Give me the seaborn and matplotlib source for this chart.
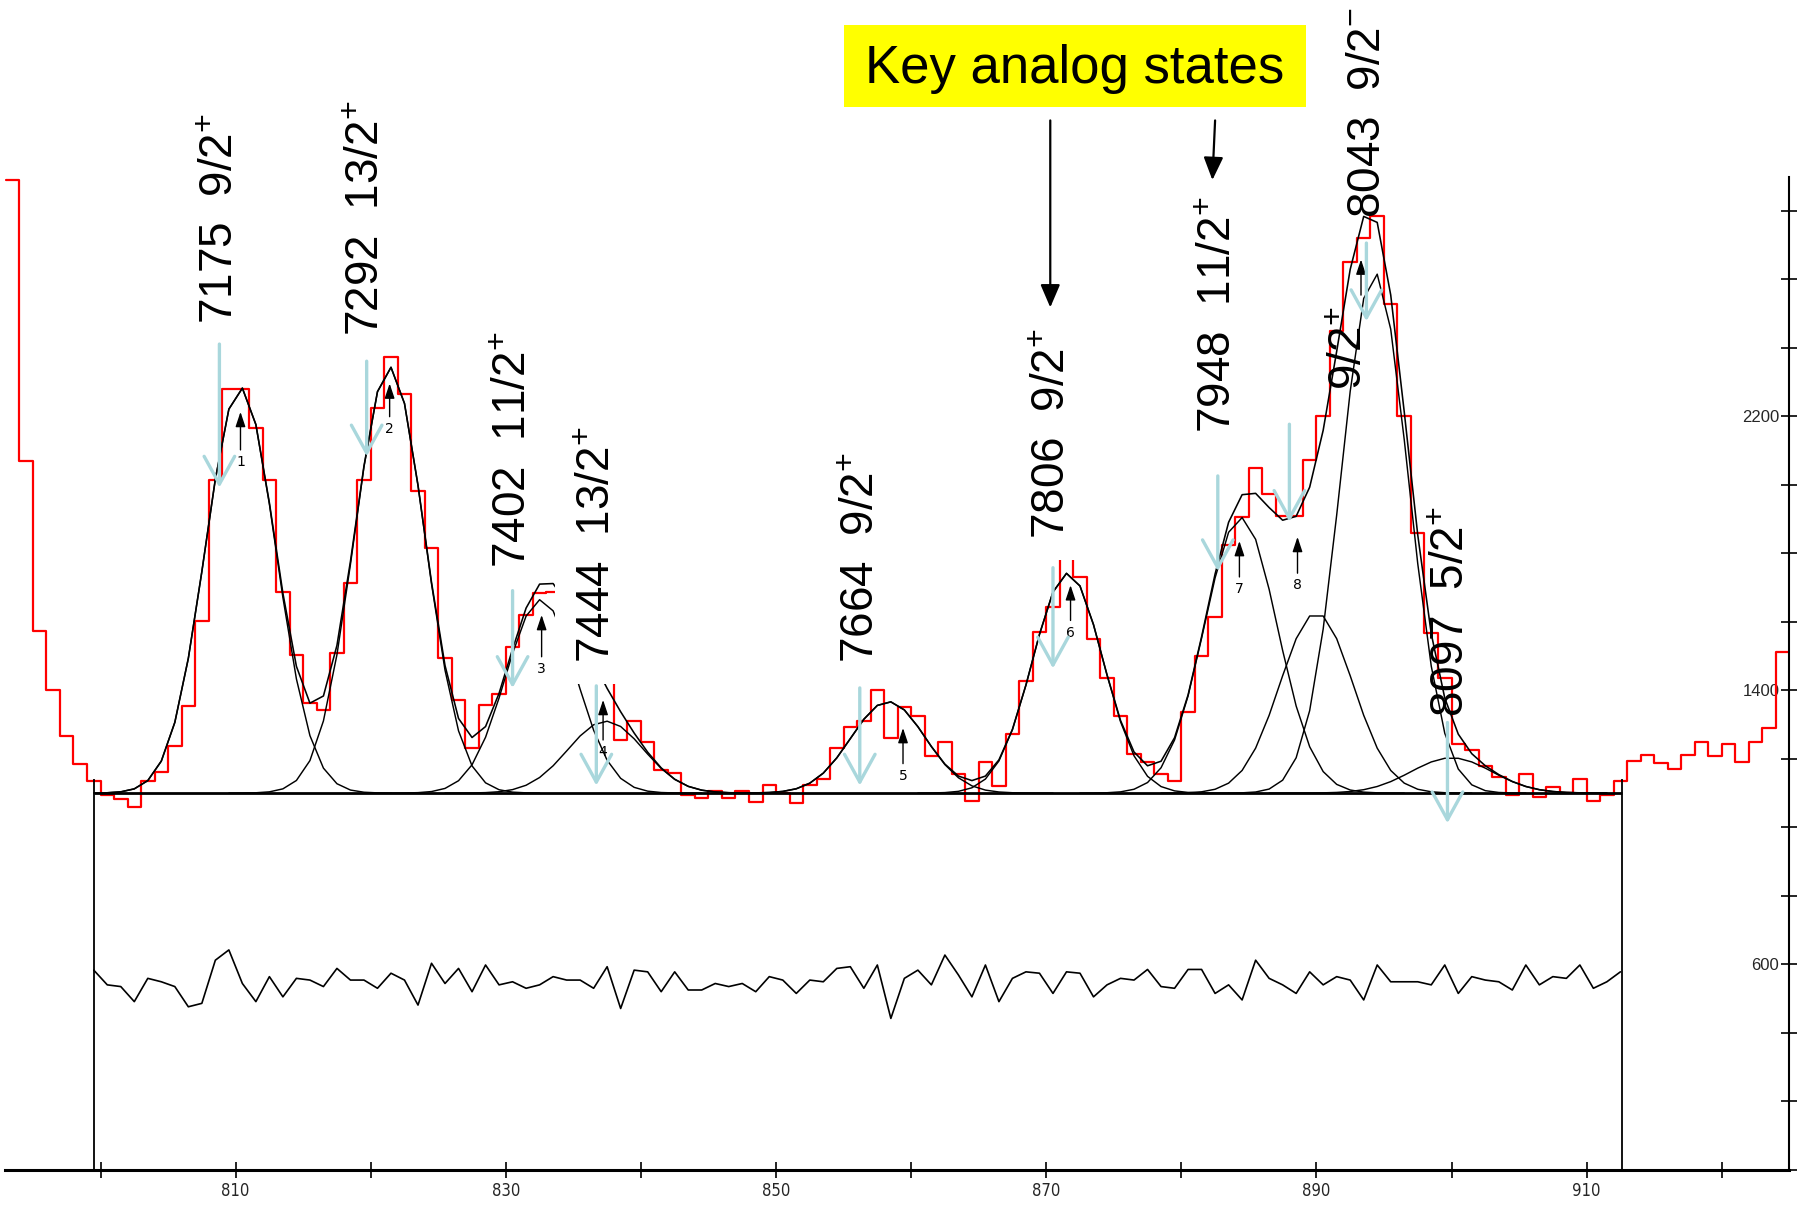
import numpy as np
import matplotlib
matplotlib.use("Agg")
import matplotlib.pyplot as plt
import seaborn as sns
from matplotlib.patches import Rectangle
from matplotlib.ticker import FixedLocator, MultipleLocator

sns.set_theme(style="white")
plt.rcParams["font.family"] = ["Liberation Sans", "DejaVu Sans"]
plt.rcParams["mathtext.fontset"] = "custom"
plt.rcParams["mathtext.rm"] = "Liberation Sans"
plt.rcParams["mathtext.it"] = "Liberation Sans:italic"
plt.rcParams["mathtext.bf"] = "Liberation Sans:bold"

# ---- measured spectrum: counts per channel, first bin starts at channel 793
first_channel = 793
counts = [
    2890, 2070, 1573, 1401, 1268, 1184, 1136, 1094, 1082, 1058,   # 793-802
    1136, 1162, 1238, 1355, 1602, 2014, 2279, 2279, 2165, 2014,   # 803-812
    1688, 1503, 1362, 1343, 1508, 1712, 2014, 2223, 2372, 2264,   # 813-822
    1983, 1815, 1495, 1372, 1231, 1357, 1389, 1526, 1620, 1685,   # 823-832
    1688, 1640, 1560, 1480, 1430, 1255, 1309, 1250, 1167, 1158,   # 833-842
    1094, 1085, 1107, 1085, 1107, 1075, 1124, 1099, 1070, 1124,   # 843-852
    1140, 1231, 1294, 1310, 1401, 1261, 1351, 1325, 1209, 1250,   # 853-862
    1157, 1076, 1192, 1122, 1273, 1427, 1569, 1644, 1800, 1731,   # 863-872
    1551, 1435, 1325, 1215, 1192, 1157, 1134, 1337, 1499, 1615,   # 873-882
    1823, 1905, 2049, 1974, 1910, 1910, 2073, 2200, 2449, 2652,   # 883-892
    2721, 2785, 2528, 2200, 1858, 1568, 1435, 1244, 1227, 1180,   # 893-902
    1146, 1093, 1157, 1088, 1117, 1099, 1140, 1076, 1093, 1134,   # 903-912
    1195, 1212, 1188, 1169, 1212, 1250, 1209, 1242, 1192, 1250,   # 913-922
    1290, 1513,                                                   # 923-924
]

# ---- fit: flat background plus gaussian components
fit_low, fit_high = 799.55, 912.6
baseline = 1100
peak_centroid = [810.36, 821.4, 832.6, 837.4, 858.3, 871.6, 884.4, 890.0, 894.3, 900.0]
peak_height = [1184, 1244, 565, 210, 267, 642, 805, 526, 1520, 103]
peak_sigma = [2.6, 2.6, 2.6, 2.8, 2.75, 2.6, 2.7, 2.7, 2.5, 3.0]

# ---- fit residuals, one value per channel centre from 799.5
residual_start = 799.5
residual_offset = 550
residuals = [
    33, -10, -15, -59, 9, -1, -15, -74, -64, 62,
    92, -6, -59, 14, -45, 9, 4, -15, 38, 4,
    4, -20, 24, 4, -69, 53, -6, 38, -30, 48,
    -10, -1, -20, -10, 14, 4, 4, -20, 43, -79,
    33, 28, -30, 28, -25, -25, -6, -15, -6, -30,
    14, 4, -35, 4, -1, 38, 43, -20, 48, -108,
    9, 33, -10, 77, 19, -45, 48, -59, 9, 28,
    24, -35, 28, 24, -45, -10, 9, 4, 35, -15,
    -20, 35, 35, -35, -10, -54, 62, 9, -10, -35,
    28, -10, 14, 4, -54, 48, -1, -1, -1, -10,
    48, -35, 14, 4, -1, -25, 48, -10, 14, 9,
    48, -20, -1, 28,
]

# ---- state labels (excitation energy in keV and spin-parity)
state_labels = [
    "7175  9/2$^{+}$", "7292  13/2$^{+}$", "7402  11/2$^{+}$", "7444  13/2$^{+}$",
    "7664  9/2$^{+}$", "7806  9/2$^{+}$", "7948  11/2$^{+}$", "8043  9/2$^{-}$",
    "9/2$^{+}$", "8097  5/2$^{+}$",
]
label_x = [808.9, 819.7, 830.6, 836.8, 856.4, 870.5, 882.8, 893.8, 892.5, 900.0]
label_y = [2471, 2434, 1758, 1480, 1480, 1842, 2150, 2779, 2277, 1323]
label_boxed = [False, False, False, True, False, True, False, False, False, False]

# state arrows (light blue), start and end heights
state_arrow_x = [808.8, 819.7, 830.5, 836.7, 856.2, 870.5, 882.7, 888.0, 893.7, 899.7]
state_arrow_top = [2411, 2361, 1691, 1413, 1407, 1758, 2026, 2177, 2706, 1306]
state_arrow_tip = [1992, 2083, 1407, 1122, 1122, 1464, 1748, 1892, 2478, 1012]

# fitted-peak markers from the fitting program
marker_x = [810.36, 821.4, 832.65, 837.2, 859.4, 871.8, 884.3, 888.6, 893.3]
marker_tail = [2102, 2199, 1498, 1255, 1186, 1604, 1731, 1742, 2554]
marker_head = [2213, 2296, 1620, 1372, 1290, 1707, 1836, 1848, 2658]
marker_text = ["1", "2", "3", "4", "5", "6", "7", "8", ""]

# ---- figure
W, H = 1798, 1208
fig = plt.figure(figsize=(W / 100, H / 100), dpi=100)
fig.patch.set_facecolor("white")
ax = fig.add_axes([5 / W, 1 - 1169.8 / H, 1784 / W, 993.2 / H])
ax.set_facecolor("white")
ax.set_xlim(792.93, 924.98)
ax.set_ylim(0, 2900)

# spectrum as a step histogram
chan = np.arange(first_channel, first_channel + len(counts))
edges = np.append(chan, chan[-1] + 1)
steps = np.append(counts, counts[-1])
sns.lineplot(x=edges, y=steps, drawstyle="steps-post", color="#ff0000",
             lw=1.6, estimator=None, ax=ax, legend=False, zorder=2)

# fit components and total, evaluated at channel centres
centres = np.arange(799, 912) + 0.5
total = np.full(centres.shape, float(baseline))
for c, a, s in zip(peak_centroid, peak_height, peak_sigma):
    g = a * np.exp(-0.5 * ((centres - c) / s) ** 2)
    total += g
    m = np.abs(centres - c) < 4.6 * s
    sns.lineplot(x=centres[m], y=baseline + g[m], color="black", lw=1.05,
                 estimator=None, ax=ax, legend=False, zorder=2.2)
keep = (centres > 800) & (centres < 912)
sns.lineplot(x=centres[keep], y=total[keep], color="black", lw=1.15,
             estimator=None, ax=ax, legend=False, zorder=2.3)

# background level and the fit window
ax.hlines(baseline, fit_low, fit_high, color="black", lw=2.0, zorder=2.4)
ax.vlines([fit_low, fit_high], 0, baseline + 40, color="black", lw=1.3, zorder=2.4)

# residuals
rx = residual_start + np.arange(len(residuals))
ry = residual_offset + np.asarray(residuals)
sns.lineplot(x=rx, y=ry, color="black", lw=1.2, estimator=None, ax=ax,
             legend=False, zorder=2.2)

# state labels
for txt, x, y, boxed in zip(state_labels, label_x, label_y, label_boxed):
    kw = {}
    if boxed:
        kw["bbox"] = dict(boxstyle="square,pad=0.45", facecolor="white",
                          edgecolor="none")
    ax.text(x, y, txt, rotation=90, ha="center", va="bottom", fontsize=33,
            color="black", zorder=5, clip_on=False, **kw)

# light-blue arrows to each state
for x, y0, y1 in zip(state_arrow_x, state_arrow_top, state_arrow_tip):
    ax.annotate("", xy=(x, y1), xytext=(x, y0),
                arrowprops=dict(arrowstyle="->,head_length=1.0,head_width=0.55",
                                color="#a9d7dc", lw=2.4, mutation_scale=20,
                                shrinkA=0, shrinkB=0),
                annotation_clip=False, zorder=6)

# small numbered peak markers
for x, y0, y1, t in zip(marker_x, marker_tail, marker_head, marker_text):
    ax.annotate("", xy=(x, y1), xytext=(x, y0),
                arrowprops=dict(arrowstyle="-|>,head_length=0.9,head_width=0.3",
                                color="black", lw=1.0, mutation_scale=10,
                                shrinkA=0, shrinkB=0), zorder=4)
    if t:
        ax.text(x, y0 - 15, t, ha="center", va="top", fontsize=10,
                family=["DejaVu Sans"], color="black", zorder=4)

# "Key analog states" call-out
fig.patches.append(Rectangle((844 / W, 1 - 107 / H), 462 / W, 82 / H,
                             transform=fig.transFigure, facecolor="#ffff00",
                             edgecolor="none", zorder=1))
fig.text(1075 / W, 1 - 69 / H, "Key analog states", ha="center", va="center",
         fontsize=38, color="black", zorder=3)
for (xa, ya), (xb, yb) in [((870.3, 3064), (870.3, 2518)),
                           ((882.5, 3064), (882.3, 2890))]:
    ax.annotate("", xy=(xb, yb), xytext=(xa, ya),
                arrowprops=dict(arrowstyle="-|>,head_length=0.7,head_width=0.3",
                                color="black", lw=1.6, mutation_scale=20,
                                shrinkA=0, shrinkB=0),
                annotation_clip=False, zorder=6)

# axes: bottom channel axis, right counts axis
sns.despine(ax=ax, left=True, top=True, right=False, bottom=False)
ax.spines["bottom"].set_linewidth(2.2)
ax.spines["bottom"].set_color("black")
ax.spines["right"].set_linewidth(1.5)
ax.spines["right"].set_color("black")

ax.xaxis.set_major_locator(FixedLocator([810, 830, 850, 870, 890, 910]))
ax.xaxis.set_minor_locator(FixedLocator([800, 820, 840, 860, 880, 900, 920]))
ax.tick_params(axis="x", which="both", direction="inout", length=12, width=1.2,
               color="black", bottom=True, top=False, pad=3)
for lab in ax.get_xticklabels():
    lab.set_family(["DejaVu Sans"])
    lab.set_fontstretch("condensed")
    lab.set_fontsize(12)

ax.yaxis.tick_right()
ax.yaxis.set_major_locator(FixedLocator([600, 1400, 2200]))
ax.yaxis.set_minor_locator(MultipleLocator(200))
ax.tick_params(axis="y", which="both", direction="inout", length=12, width=1.2,
               color="black", right=True, left=False, pad=-13)
for lab in ax.get_yticklabels():
    lab.set_horizontalalignment("right")
    lab.set_fontsize(12)
ax.grid(False)
ax.set_xlabel("")
ax.set_ylabel("")

fig.savefig("out.png", dpi=100, facecolor="white")
